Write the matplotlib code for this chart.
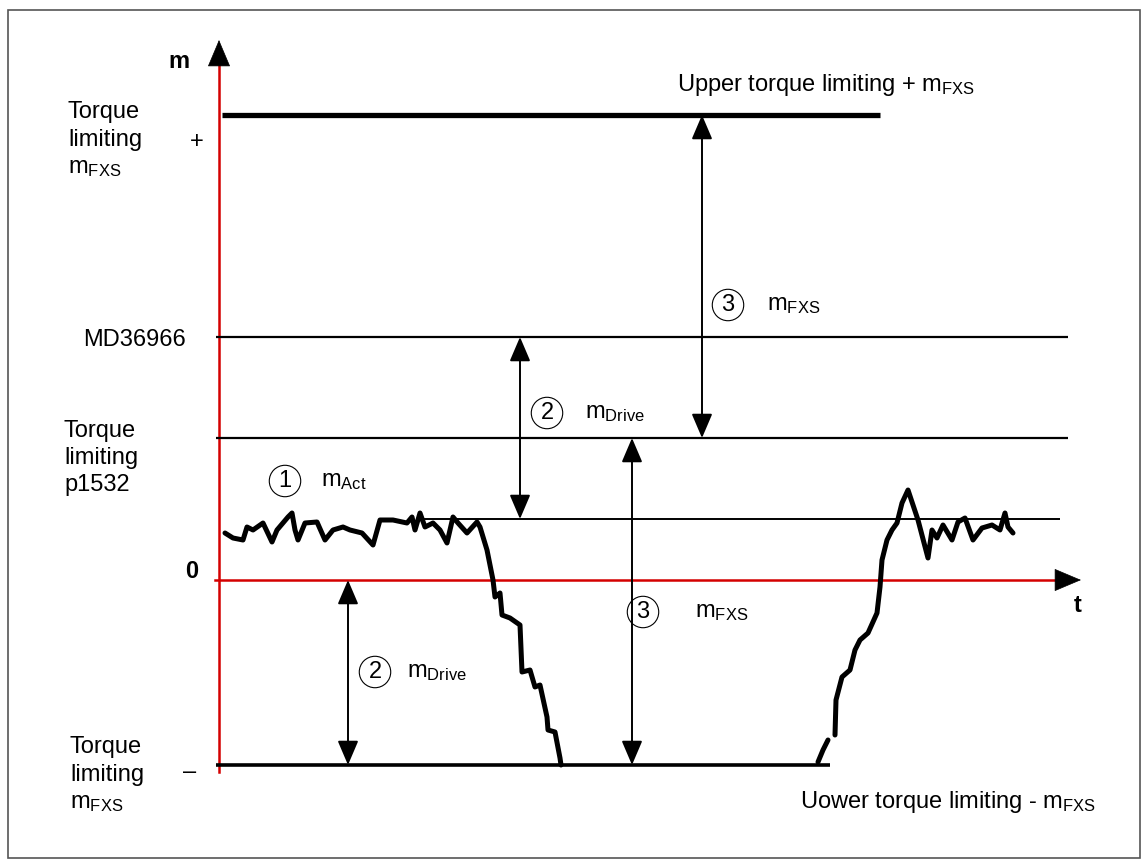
import matplotlib.pyplot as plt

plt.rcParams['font.family'] = 'Liberation Sans'
plt.rcParams['mathtext.fontset'] = 'custom'
plt.rcParams['mathtext.rm'] = 'Liberation Sans'
plt.rcParams['mathtext.it'] = 'Liberation Sans'
plt.rcParams['mathtext.bf'] = 'Liberation Sans:bold'

# drawing units = pixels of the original sketch, y grows downwards
y_upper = 115      # upper torque limiting + mFXS
y_md36966 = 337
y_p1532 = 438
y_act = 519
y_zero = 580
y_lower = 765      # lower torque limiting - mFXS
x_axis = 219

# m_Act trace: wiggle, drop to the lower limit
drop_t = [225, 233, 243, 247, 253, 263, 272, 277, 288, 292, 295, 298, 305, 317, 325, 333,
          343, 350, 362, 373, 380, 393, 407, 412, 415, 420, 425, 433, 440, 447, 453, 458,
          467, 477, 480, 487, 493, 495, 500, 502, 510, 520, 522, 530, 535, 540, 547, 548,
          555, 560, 561]
drop_m = [533, 538, 540, 527, 530, 523, 542, 530, 517, 513, 530, 540, 523, 522, 540, 530,
          527, 530, 533, 545, 520, 520, 523, 517, 530, 513, 527, 523, 530, 543, 517, 523,
          533, 522, 527, 550, 580, 597, 593, 615, 618, 625, 672, 670, 687, 685, 717, 730,
          732, 758, 765]

# m_Act trace: rise from the lower limit, overshoot, wiggle
rise_t = [818, 823, 828, None, 835, 836, 842, 850, 855, 860, 868, 877, 880, 882, 887, 892,
          897, 902, 908, 918, 928, 932, 937, 943, 952, 958, 965, 973, 982, 992, 1000, 1005,
          1008, 1013]
rise_m = [762, 750, 740, None, 735, 700, 677, 670, 650, 640, 633, 613, 587, 560, 540, 530,
          523, 503, 490, 520, 558, 530, 538, 525, 540, 522, 518, 540, 528, 525, 530, 513,
          527, 533]

# horizontal level lines: (y, x start, x end, width)
levels = [(y_upper, 222, 880, 3.8),
          (y_md36966, 216, 1068, 1.6),
          (y_p1532, 216, 1068, 1.6),
          (y_act, 420, 1060, 1.4),
          (y_lower, 216, 830, 2.6)]

# double arrows: (x, y top, y bottom)
arrows = [(702, y_upper, y_p1532),
          (520, y_md36966, y_act),
          (632, y_p1532, y_lower),
          (348, y_zero, y_lower)]

# circled numbers with their labels: (x circle, y, number, x label, label)
marks = [(285, 481, '1', 321, r'm$_{\rm Act}$'),
         (728, 305, '3', 767, r'm$_{\rm FXS}$'),
         (547, 413, '2', 585, r'm$_{\rm Drive}$'),
         (643, 612, '3', 695, r'm$_{\rm FXS}$'),
         (375, 672, '2', 407, r'm$_{\rm Drive}$')]

fig = plt.figure(figsize=(11.48, 8.68), dpi=100)
ax = fig.add_axes([0, 0, 1, 1])
ax.set_xlim(0, 1148)
ax.set_ylim(868, 0)
ax.axis('off')

# outer frame
ax.add_patch(plt.Rectangle((8, 10), 1132, 848, fill=False, ec='#555555', lw=1.2))

# red axes
red = '#d40000'
ax.plot([x_axis, x_axis], [772, 55], color=red, lw=1.8, zorder=2)
ax.plot([215, 1064], [y_zero, y_zero], color=red, lw=1.8, zorder=2)
head = dict(arrowstyle='-|>,head_length=0.9,head_width=0.38', color='black', lw=0.5,
            shrinkA=0, shrinkB=0, mutation_scale=20)
ax.annotate('', xy=(x_axis, 40), xytext=(x_axis, 58), arrowprops=head)
ax.annotate('', xy=(1081, y_zero), xytext=(1062, y_zero), arrowprops=head)

for y, x0, x1, w in levels:
    ax.plot([x0, x1], [y, y], color='black', lw=w, solid_capstyle='butt', zorder=3)

for x, y0, y1 in arrows:
    ax.annotate('', xy=(x, y0), xytext=(x, y1),
                arrowprops=dict(arrowstyle='<|-|>,head_length=0.75,head_width=0.32',
                                color='black', lw=1.4, shrinkA=0, shrinkB=0,
                                mutation_scale=20), zorder=4)

ax.plot(drop_t, drop_m, color='black', lw=3.6, solid_joinstyle='round',
        solid_capstyle='round', zorder=5)
ax.plot(rise_t, rise_m, color='black', lw=3.6, solid_joinstyle='round',
        solid_capstyle='round', zorder=5)

fs = 17
for xc, yc, num, xl, lab in marks:
    ax.text(xc, yc, num, fontsize=fs, ha='center', va='center',
            bbox=dict(boxstyle='circle,pad=0.2', fc='white', ec='black', lw=0.8))
    ax.text(xl, yc, lab, fontsize=fs, ha='left', va='center')

# left side labels
ax.text(179, 62, 'm', fontsize=fs, fontweight='bold', ha='center', va='center')
ax.text(68, 140, 'Torque\nlimiting\n' + r'm$_{\rm FXS}$', fontsize=fs, ha='left',
        va='center', linespacing=1.3)
ax.text(197, 142, '+', fontsize=fs, ha='center', va='center')
ax.text(186, 340, 'MD36966', fontsize=fs, ha='right', va='center')
ax.text(64, 458, 'Torque\nlimiting\np1532', fontsize=fs, ha='left', va='center',
        linespacing=1.3)
ax.text(192, 572, '0', fontsize=fs, fontweight='bold', ha='center', va='center')
ax.text(70, 775, 'Torque\nlimiting\n' + r'm$_{\rm FXS}$', fontsize=fs, ha='left',
        va='center', linespacing=1.3)
ax.text(190, 772, '–', fontsize=fs, ha='center', va='center')
ax.text(1078, 605, 't', fontsize=fs, fontweight='bold', ha='center', va='center')

ax.text(677, 85, r'Upper torque limiting + m$_{\rm FXS}$', fontsize=fs, ha='left',
        va='center')
ax.text(800, 802, r'Uower torque limiting - m$_{\rm FXS}$', fontsize=fs, ha='left',
        va='center')

fig.savefig('out.png', dpi=100)
